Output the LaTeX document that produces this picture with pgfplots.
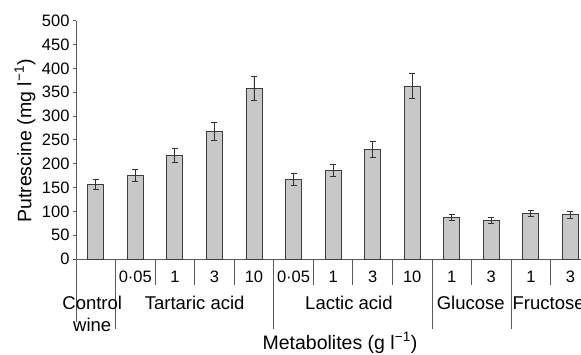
\documentclass[border=0pt]{standalone}
\usepackage{pgfplots}
\pgfplotsset{compat=1.18}
\usepackage{fontspec}
\setmainfont{Liberation Sans}
\definecolor{barfill}{RGB}{200,200,200}
\definecolor{bardraw}{RGB}{60,60,60}
\definecolor{errcol}{RGB}{50,50,50}
\definecolor{axcol}{RGB}{90,90,90}
\newcommand{\tickfont}{\fontsize{16.5}{18}\selectfont}
\newcommand{\grpfont}{\fontsize{18.5}{20}\selectfont}
\newcommand{\labfont}{\fontsize{19.5}{21}\selectfont}
\begin{document}
\begin{tikzpicture}[x=1pt,y=1pt]
\begin{axis}[
  at={(76pt,95pt)}, anchor=south west,
  scale only axis, width=514.2pt, height=238.3pt,
  xmin=-0.5, xmax=12.5, ymin=0, ymax=500,
  axis x line*=bottom, axis y line*=left,
  axis line style={axcol, line width=0.8pt},
  xtick=\empty,
  ytick={0,50,...,500},
  tick align=outside, major tick length=3pt,
  tick style={axcol, line width=0.8pt},
  /pgf/number format/assume math mode=true,
  yticklabel style={font=\tickfont},
  clip=false,
]
\addplot[ybar, bar width=16pt, fill=barfill, draw=bardraw, line width=0.9pt,
  error bars/.cd, y dir=both, y explicit,
  error bar style={color=errcol, line width=0.9pt},
  error mark options={rotate=90, mark size=3pt, color=errcol, line width=0.9pt}]
 coordinates {
 (0,157) +- (0,10.5)
 (1,175.5) +- (0,13)
 (2,217.5) +- (0,15.5)
 (3,268.5) +- (0,19)
 (4,358) +- (0,26)
 (5,167) +- (0,12)
 (6,186) +- (0,13)
 (7,230) +- (0,17)
 (8,363) +- (0,25.5)
 (9,87) +- (0,6.5)
 (10,80.5) +- (0,6)
 (11,95.5) +- (0,6.5)
 (12,92.5) +- (0,7)
 };
\pgfplotsinvokeforeach{0.5,4.5,8.5,10.5}{
  \draw[axcol, line width=0.8pt] (axis cs:#1,0) -- ([yshift=-70pt]axis cs:#1,0);
}
\draw[axcol, line width=0.8pt] (axis cs:-0.5,0) -- ([yshift=-63pt]axis cs:-0.5,0);
\pgfplotsinvokeforeach{1.5,2.5,3.5,5.5,6.5,7.5,9.5,11.5}{
  \draw[axcol, line width=0.8pt] (axis cs:#1,0) -- ([yshift=-26pt]axis cs:#1,0);
}
\node[font=\tickfont, yshift=-17.7pt] at (axis cs:1,0) {0·05};
\node[font=\tickfont, yshift=-17.7pt] at (axis cs:2,0) {1};
\node[font=\tickfont, yshift=-17.7pt] at (axis cs:3,0) {3};
\node[font=\tickfont, yshift=-17.7pt] at (axis cs:4,0) {10};
\node[font=\tickfont, yshift=-17.7pt] at (axis cs:5,0) {0·05};
\node[font=\tickfont, yshift=-17.7pt] at (axis cs:6,0) {1};
\node[font=\tickfont, yshift=-17.7pt] at (axis cs:7,0) {3};
\node[font=\tickfont, yshift=-17.7pt] at (axis cs:8,0) {10};
\node[font=\tickfont, yshift=-17.7pt] at (axis cs:9,0) {1};
\node[font=\tickfont, yshift=-17.7pt] at (axis cs:10,0) {3};
\node[font=\tickfont, yshift=-17.7pt] at (axis cs:11,0) {1};
\node[font=\tickfont, yshift=-17.7pt] at (axis cs:12,0) {3};
\node[font=\grpfont, yshift=-44pt] at (axis cs:-0.09,0) {Control};
\node[font=\grpfont, yshift=-66pt] at (axis cs:-0.09,0) {wine};
\node[font=\grpfont, yshift=-44pt] at (axis cs:2.5,0) {Tartaric acid};
\node[font=\grpfont, yshift=-44pt] at (axis cs:6.4,0) {Lactic acid};
\node[font=\grpfont, yshift=-44pt] at (axis cs:9.48,0) {Glucose};
\node[font=\grpfont, yshift=-44pt] at (axis cs:11.45,0) {Fructose};
\end{axis}
\node[rotate=90, font=\labfont] at (25pt,213pt) {Putrescine (mg l\textsuperscript{−1})};
\node[font=\labfont] at (340pt,11pt) {Metabolites (g l\textsuperscript{−1})};
\pgfresetboundingbox
\useasboundingbox (0pt,0pt) rectangle (581pt,354pt);
\end{tikzpicture}
\end{document}
